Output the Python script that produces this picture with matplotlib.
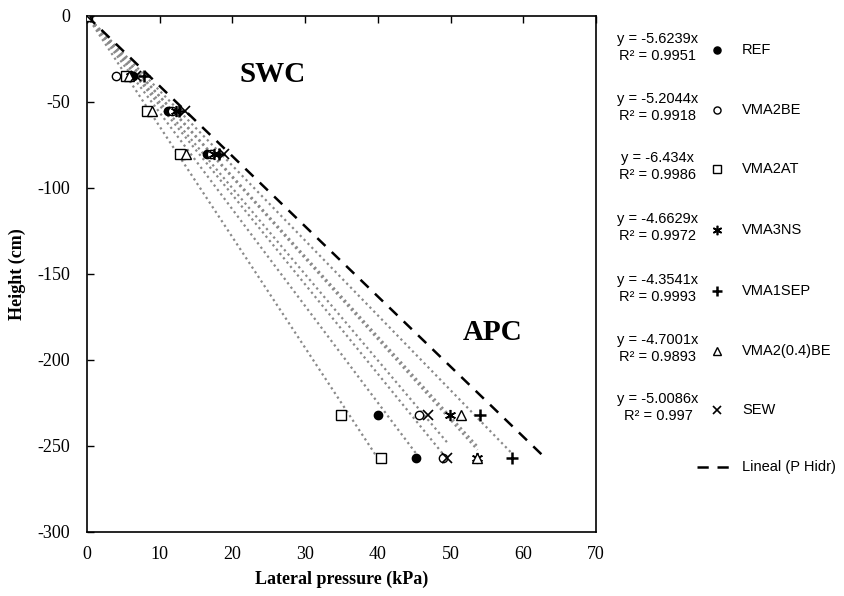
import matplotlib
matplotlib.use("Agg")
import matplotlib.pyplot as plt
from matplotlib.lines import Line2D

plt.rcParams["axes.unicode_minus"] = False

# Measurement heights (cm) shared by all series
heights = [0, -35, -55, -80, -232, -257]

series_names = ["REF", "VMA2BE", "VMA2AT", "VMA3NS", "VMA1SEP", "VMA2(0.4)BE", "SEW"]

# Lateral pressure (kPa) at each height
p_ref = [0, 6.3, 11.2, 16.5, 40.0, 45.3]
p_vma2be = [0, 4.0, 11.7, 17.0, 45.7, 49.0]
p_vma2at = [0, 5.3, 8.3, 12.8, 35.0, 40.5]
p_vma3ns = [0, 6.0, 12.2, 17.5, 49.9, 53.6]
p_vma1sep = [0, 7.8, 12.7, 18.2, 54.0, 58.5]
p_vma204be = [0, 5.8, 8.9, 13.6, 51.5, 53.7]
p_sew = [0, 6.8, 13.5, 18.8, 46.9, 49.5]
pressures = [p_ref, p_vma2be, p_vma2at, p_vma3ns, p_vma1sep, p_vma204be, p_sew]

# Linear trendlines through the origin
slopes = [-5.6239, -5.2044, -6.434, -4.6629, -4.3541, -4.7001, -5.0086]
r2_labels = ["0.9951", "0.9918", "0.9986", "0.9972", "0.9993", "0.9893", "0.997"]
slope_labels = ["-5.6239", "-5.2044", "-6.434", "-4.6629", "-4.3541", "-4.7001", "-5.0086"]

# Hydrostatic pressure line
hydro_p = [0, 63.0]
hydro_h = [0, -257]

styles = [
    dict(marker="o", ms=6, mfc="black", mec="black", mew=1.0),
    dict(marker="o", ms=6, mfc="white", mec="black", mew=1.0),
    dict(marker="s", ms=6.5, mfc="white", mec="black", mew=1.0),
    dict(marker=(6, 2, 0), ms=8, mfc="black", mec="black", mew=1.2),
    dict(marker="+", ms=8, mfc="black", mec="black", mew=1.8),
    dict(marker="^", ms=6.5, mfc="white", mec="black", mew=1.0),
    dict(marker="x", ms=6.5, mfc="black", mec="black", mew=1.2),
]

serif = ["Liberation Serif", "DejaVu Serif"]
sans = ["Liberation Sans", "DejaVu Sans"]

fig = plt.figure(figsize=(8.45, 5.96), dpi=100)
ax = fig.add_axes([87 / 845, 1 - 531.7 / 596, (596 - 87) / 845, (531.7 - 16) / 596])

for p, m in zip(pressures, slopes):
    xmax = max(p)
    ax.plot([0, xmax], [0, m * xmax], color="#8a8a8a", lw=1.6,
            linestyle=(0, (1, 1.5)), zorder=2)

ax.plot(hydro_p, hydro_h, color="black", lw=1.8, linestyle=(0, (4.5, 3.5)), zorder=3)

for p, st in zip(pressures, styles):
    ax.plot(p, heights, linestyle="none", zorder=4, **st)

ax.set_xlim(0, 70)
ax.set_ylim(-300, 0)
ax.set_xticks(range(0, 71, 10))
ax.set_yticks(range(-300, 1, 50))
ax.tick_params(axis="x", top=True, bottom=False, labeltop=False, labelbottom=True,
               direction="in", length=5, width=1, pad=10)
ax.tick_params(axis="y", left=True, direction="in", length=5, width=1, pad=12)
for lab in ax.get_xticklabels() + ax.get_yticklabels():
    lab.set_fontfamily(serif)
    lab.set_fontsize(13)
for sp in ax.spines.values():
    sp.set_linewidth(1.2)

ax.set_xlabel("Lateral pressure (kPa)", fontfamily=serif, fontweight="bold",
              fontsize=13, labelpad=6)
ax.set_ylabel("Height (cm)", fontfamily=serif, fontweight="bold", fontsize=13,
              labelpad=8)

ax.text(25.5, -34, "SWC", fontfamily=serif, fontweight="bold", fontsize=21,
        ha="center", va="center")
ax.text(55.8, -184, "APC", fontfamily=serif, fontweight="bold", fontsize=21,
        ha="center", va="center")

# Legend panel with trendline equations, in pixel coordinates
lg = fig.add_axes([0, 0, 1, 1], facecolor="none")
lg.set_xlim(0, 845)
lg.set_ylim(596, 0)
lg.axis("off")
rows_y = [48, 108, 167, 228, 289, 349, 408]
for y, name, st, s, r2 in zip(rows_y, series_names, styles, slope_labels, r2_labels):
    lg.text(658, y - 9, f"y = {s}x", fontfamily=sans, fontsize=10.5,
            ha="center", va="center")
    lg.text(658, y + 8, f"R² = {r2}", fontfamily=sans, fontsize=10.5,
            ha="center", va="center")
    mst = dict(st)
    mst["ms"] = mst["ms"] * 0.85
    lg.add_line(Line2D([717], [y + 2], linestyle="none", **mst))
    lg.text(742, y + 2, name, fontfamily=sans, fontsize=10.5, ha="left", va="center")

lg.add_line(Line2D([697, 737], [467, 467], color="black", lw=1.8,
                   linestyle=(0, (4.5, 3.5))))
lg.text(742, 467, "Lineal (P Hidr)", fontfamily=sans, fontsize=10.5,
        ha="left", va="center")

fig.savefig("out.png", dpi=100)
